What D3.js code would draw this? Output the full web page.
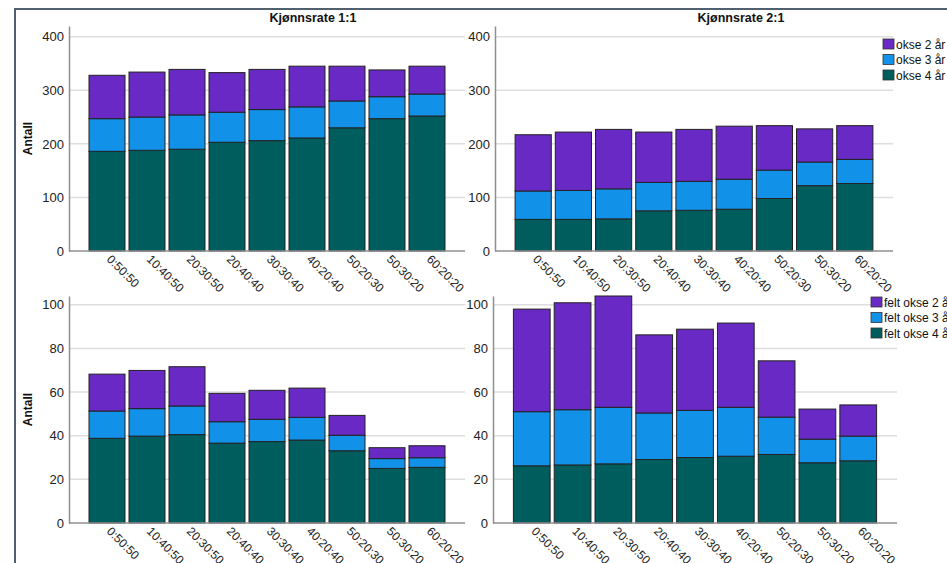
<!DOCTYPE html>
<html>
<head>
<meta charset="utf-8">
<script src="https://cdn.jsdelivr.net/npm/d3@7"></script>
<style>
  body { margin: 0; background: #fff; }
  svg { font-family: "Liberation Sans", Arial, sans-serif; }
  .tick-y { font-size: 13px; fill: #222; }
  .tick-x { font-size: 12px; fill: #222; }
</style>
</head>
<body>
<div id="chart"></div>
<script>
// categories (fordeling)
const categories = ["0:50:50", "10:40:50", "20:30:50", "20:40:40", "30:30:40",
                    "40:20:40", "50:20:30", "50:30:20", "60:20:20"];

// legend names
const seriesTop = ["okse 2 år", "okse 3 år", "okse 4 år"];
const seriesBottom = ["felt okse 2 år", "felt okse 3 år", "felt okse 4 år"];

// Kjønnsrate 1:1 - antall
const r11_okse4 = [186, 188, 190, 203, 206, 211, 230, 247, 252];
const r11_okse3 = [61, 62, 64, 56, 58, 58, 50, 41, 41];
const r11_okse2 = [81, 84, 85, 74, 75, 76, 65, 50, 52];

// Kjønnsrate 2:1 - antall
const r21_okse4 = [59, 59, 60, 75, 76, 78, 98, 122, 126];
const r21_okse3 = [53, 54, 56, 53, 54, 56, 53, 44, 45];
const r21_okse2 = [105, 109, 111, 94, 97, 99, 83, 62, 63];

// Kjønnsrate 1:1 - felt
const r11_felt4 = [38.8, 39.8, 40.5, 36.6, 37.3, 38.0, 33.1, 25.0, 25.5];
const r11_felt3 = [12.5, 12.6, 13.1, 9.8, 10.2, 10.4, 7.1, 4.5, 4.4];
const r11_felt2 = [16.9, 17.5, 18.0, 13.0, 13.3, 13.4, 9.1, 5.0, 5.5];

// Kjønnsrate 2:1 - felt
const r21_felt4 = [26.2, 26.6, 27.1, 29.1, 30.0, 30.6, 31.4, 27.6, 28.5];
const r21_felt3 = [24.8, 25.3, 25.9, 21.3, 21.6, 22.4, 17.1, 10.8, 11.3];
const r21_felt2 = [47.0, 49.0, 51.0, 35.8, 37.2, 38.6, 25.8, 13.8, 14.3];

const ticksTop = [0, 100, 200, 300, 400];
const ticksBottom = [0, 20, 40, 60, 80, 100];

const colors = { k2: "#6929c4", k3: "#1192e8", k4: "#005d5d" };

const W = 947, H = 563;
const svg = d3.select("#chart").append("svg")
    .attr("width", W).attr("height", H);

// outer frame
svg.append("rect")
    .attr("x", 15).attr("y", 9)
    .attr("width", W + 20).attr("height", H + 20)
    .attr("fill", "none")
    .attr("stroke", "#51606e")
    .attr("stroke-width", 2);

function drawPanel(p) {
    var rows = categories.map(function (c, i) {
        return { cat: c, k4: p.v4[i], k3: p.v3[i], k2: p.v2[i] };
    });
    var stacked = d3.stack().keys(["k4", "k3", "k2"])(rows);

    var xScale = d3.scaleBand()
        .domain(categories)
        .range([p.x0, p.x1])
        .paddingInner(0.1)
        .paddingOuter(0.5);

    var yScale = d3.scaleLinear()
        .domain([0, p.ymax])
        .range([p.y0, p.y1]);

    var g = svg.append("g");

    // gridlines
    g.selectAll(".grid")
        .data(p.ticks.filter(function (t) { return t > 0; }))
        .enter().append("line")
        .attr("x1", p.x0).attr("x2", p.x1)
        .attr("y1", function (d) { return yScale(d); })
        .attr("y2", function (d) { return yScale(d); })
        .attr("stroke", "#dedede")
        .attr("stroke-width", 1.5);

    // y axis
    var yAxis = d3.axisLeft(yScale).tickValues(p.ticks).tickSize(0).tickPadding(5);
    var ya = g.append("g")
        .attr("transform", "translate(" + p.x0 + ",0)")
        .call(yAxis);
    ya.select(".domain").attr("stroke", "#8f8f8f").attr("stroke-width", 1.5);
    ya.selectAll("text").attr("class", "tick-y").style("font-family", "inherit");

    // bars
    g.selectAll(".layer")
        .data(stacked)
        .enter().append("g")
        .attr("fill", function (d) { return colors[d.key]; })
        .selectAll("rect")
        .data(function (d) { return d; })
        .enter().append("rect")
        .attr("x", function (d) { return xScale(d.data.cat); })
        .attr("y", function (d) { return yScale(d[1]); })
        .attr("width", xScale.bandwidth())
        .attr("height", function (d) { return yScale(d[0]) - yScale(d[1]); })
        .attr("stroke", "#222")
        .attr("stroke-width", 1);

    // x axis
    var xa = g.append("g")
        .attr("transform", "translate(0," + p.y0 + ")");
    xa.append("line")
        .attr("x1", p.x0).attr("x2", p.x1)
        .attr("stroke", "#8f8f8f").attr("stroke-width", 1.5);
    xa.selectAll(".tick-x")
        .data(categories)
        .enter().append("text")
        .attr("class", "tick-x")
        .attr("transform", function (d) {
            return "translate(" + (xScale(d) + xScale.bandwidth() / 2 + 2) + ",6) rotate(45)";
        })
        .attr("dy", "0.35em")
        .attr("text-anchor", "start")
        .text(function (d) { return d; });

    // y label
    if (p.ylabel) {
        svg.append("text")
            .attr("transform", "translate(32," + ((p.y0 + p.y1) / 2) + ") rotate(-90)")
            .attr("text-anchor", "middle")
            .attr("font-size", "12px")
            .attr("font-weight", "bold")
            .attr("fill", "#111")
            .text(p.ylabel);
    }

    // title
    if (p.title) {
        svg.append("text")
            .attr("x", p.titleX).attr("y", 22)
            .attr("text-anchor", "middle")
            .attr("font-size", "12.5px")
            .attr("font-weight", "bold")
            .attr("fill", "#111")
            .text(p.title);
    }

    // legend
    if (p.legend) {
        var keys = ["k2", "k3", "k4"];
        var lg = svg.append("g")
            .attr("transform", "translate(" + p.legendX + "," + p.legendY + ")");
        var item = lg.selectAll(".item")
            .data(p.legend)
            .enter().append("g")
            .attr("transform", function (d, i) { return "translate(0," + (i * 15.5) + ")"; });
        item.append("rect")
            .attr("width", 11).attr("height", 10)
            .attr("fill", function (d, i) { return colors[keys[i]]; })
            .attr("stroke", "#333").attr("stroke-width", 0.8);
        item.append("text")
            .attr("x", 13).attr("y", 9.5)
            .attr("font-size", "12px")
            .attr("fill", "#111")
            .text(function (d) { return d; });
    }
}

drawPanel({ x0: 69, x1: 465, y0: 251, y1: 26, ymax: 420, ticks: ticksTop,
    v4: r11_okse4, v3: r11_okse3, v2: r11_okse2,
    ylabel: "Antall", title: "Kjønnsrate 1:1", titleX: 313 });

drawPanel({ x0: 495, x1: 893, y0: 251, y1: 26, ymax: 420, ticks: ticksTop,
    v4: r21_okse4, v3: r21_okse3, v2: r21_okse2,
    title: "Kjønnsrate 2:1", titleX: 741,
    legend: seriesTop, legendX: 883, legendY: 39 });

drawPanel({ x0: 69, x1: 465, y0: 523, y1: 296, ymax: 104, ticks: ticksBottom,
    v4: r11_felt4, v3: r11_felt3, v2: r11_felt2,
    ylabel: "Antall" });

drawPanel({ x0: 493, x1: 897, y0: 523, y1: 296, ymax: 104, ticks: ticksBottom,
    v4: r21_felt4, v3: r21_felt3, v2: r21_felt2,
    legend: seriesBottom, legendX: 871, legendY: 297 });
</script>
</body>
</html>
